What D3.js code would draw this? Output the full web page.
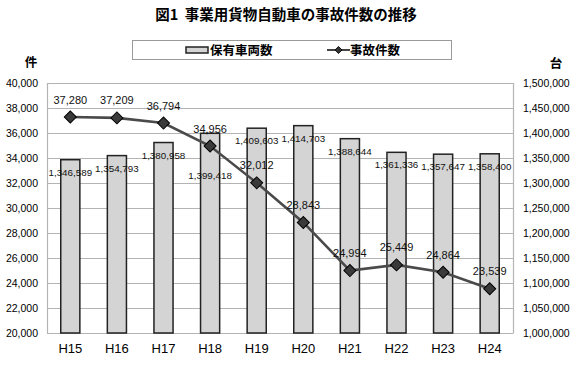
<!DOCTYPE html>
<html><head><meta charset="utf-8">
<script src="https://cdn.jsdelivr.net/npm/d3@7"></script>
<style>
body{margin:0;background:#fff;}
svg text{font-family:"Liberation Sans",Arial,"Noto Sans CJK JP",sans-serif;}
</style></head>
<body><svg id="c" width="577" height="380"></svg>
<script>
const categories = ["H15","H16","H17","H18","H19","H20","H21","H22","H23","H24"];
const vehicles = [1346589,1354793,1380958,1399418,1409603,1414703,1388644,1361336,1357647,1358400];
const accidents = [37280,37209,36794,34956,32012,28843,24994,25449,24864,23539];
const leftTicks = [20000,22000,24000,26000,28000,30000,32000,34000,36000,38000,40000];
const rightTicks = [1000000,1050000,1100000,1150000,1200000,1250000,1300000,1350000,1400000,1450000,1500000];

const svg = d3.select("#c");
const L = 47, R = 513, T = 83, B = 333;
const x = d3.scaleBand().domain(categories).range([L, R]).paddingInner(0.59).paddingOuter(0.295);
const yL = d3.scaleLinear().domain([20000, 40000]).range([B, T]);
const yR = d3.scaleLinear().domain([1000000, 1500000]).range([B, T]);
const fmt = d3.format(",");
const cjk = '"Noto Sans CJK JP","Liberation Sans",sans-serif';
const diamond = s => d3.symbol(d3.symbolSquare, s * s)();

// title
svg.append("text").attr("x", 286).attr("y", 20).attr("text-anchor", "middle")
  .style("font-family", cjk).style("font-weight", "bold").style("font-size", "14.5px")
  .style("white-space", "pre")
  .text("図1  事業用貨物自動車の事故件数の推移");

// legend
const lg = svg.append("g");
lg.append("rect").attr("x", 132.5).attr("y", 40.5).attr("width", 319).attr("height", 19)
  .attr("fill", "#fff").attr("stroke", "#9a9a9a");
lg.append("rect").attr("x", 186).attr("y", 47).attr("width", 22).attr("height", 6)
  .attr("fill", "#d4d4d4").attr("stroke", "#222").attr("stroke-width", 1.5);
lg.append("text").attr("x", 210).attr("y", 54.5).style("font-family", cjk).style("font-weight", "bold")
  .style("font-size", "12.5px").text("保有車両数");
lg.append("line").attr("x1", 327).attr("x2", 350).attr("y1", 50).attr("y2", 50)
  .attr("stroke", "#444").attr("stroke-width", 2);
lg.append("path").attr("d", diamond(5)).attr("transform", "translate(338.5,50) rotate(45)")
  .attr("fill", "#333").attr("stroke", "#000").attr("stroke-width", 0.8);
lg.append("text").attr("x", 350).attr("y", 54.5).style("font-family", cjk).style("font-weight", "bold")
  .style("font-size", "12.5px").text("事故件数");

// unit labels
svg.append("text").attr("x", 31).attr("y", 67).attr("text-anchor", "middle")
  .style("font-family", cjk).style("font-weight", "bold").style("font-size", "12.5px").text("件");
svg.append("text").attr("x", 556).attr("y", 68).attr("text-anchor", "middle")
  .style("font-family", cjk).style("font-weight", "bold").style("font-size", "12.5px").text("台");

// gridlines
svg.append("g").selectAll("line").data(leftTicks).join("line")
  .attr("x1", L).attr("x2", R).attr("y1", d => Math.round(yL(d)) + 0.5).attr("y2", d => Math.round(yL(d)) + 0.5)
  .attr("stroke", "#b4b4b4").attr("stroke-width", 1.2);
svg.append("line").attr("x1", L + 0.5).attr("x2", L + 0.5).attr("y1", T).attr("y2", B + 0.5).attr("stroke", "#b4b4b4").attr("stroke-width", 1.2);
svg.append("line").attr("x1", R + 0.5).attr("x2", R + 0.5).attr("y1", T).attr("y2", B + 0.5).attr("stroke", "#b4b4b4").attr("stroke-width", 1.2);

// axes
const axL = svg.append("g").attr("transform", `translate(${L},0)`)
  .call(d3.axisLeft(yL).tickValues(leftTicks).tickFormat(fmt).tickSize(0).tickPadding(9));
const axR = svg.append("g").attr("transform", `translate(${R},0)`)
  .call(d3.axisRight(yR).tickValues(rightTicks).tickFormat(fmt).tickSize(0).tickPadding(10));
const axB = svg.append("g").attr("transform", `translate(0,${B})`)
  .call(d3.axisBottom(x).tickSize(0).tickPadding(11));
[axL, axR, axB].forEach(a => {
  a.select(".domain").remove();
  a.selectAll("text").style("font-family", '"Liberation Sans",Arial,sans-serif').attr("fill", "#000");
});
axL.selectAll("text").style("font-size", "10.5px");
axR.selectAll("text").style("font-size", "10.5px");
axB.selectAll("text").style("font-size", "13px");

// bars
svg.append("g").selectAll("rect").data(vehicles).join("rect")
  .attr("x", (d, i) => x(categories[i]))
  .attr("width", x.bandwidth())
  .attr("y", d => yR(d))
  .attr("height", d => B - yR(d))
  .attr("fill", "#d4d4d4").attr("stroke", "#222").attr("stroke-width", 1.5);

// bar labels
svg.append("g").selectAll("text").data(vehicles).join("text")
  .attr("x", (d, i) => x(categories[i]) + x.bandwidth() / 2)
  .attr("y", (d, i) => yR(d) + (i === 3 ? 46 : 16))
  .attr("text-anchor", "middle").style("font-size", "9.8px").attr("fill", "#111")
  .text(d => fmt(d));

// line
const cx = i => x(categories[i]) + x.bandwidth() / 2;
svg.append("path").datum(accidents)
  .attr("d", d3.line().x((d, i) => cx(i)).y(d => yL(d)))
  .attr("fill", "none").attr("stroke", "#4a4a4a").attr("stroke-width", 2.6);
svg.append("g").selectAll("path").data(accidents).join("path")
  .attr("d", diamond(8.5))
  .attr("transform", (d, i) => `translate(${cx(i)},${yL(d)}) rotate(45)`)
  .attr("fill", "#3a3a3a").attr("stroke", "#000").attr("stroke-width", 1);
svg.append("g").selectAll("text").data(accidents).join("text")
  .attr("x", (d, i) => cx(i)).attr("y", d => yL(d) - 13.5)
  .attr("text-anchor", "middle").style("font-size", "11px").attr("fill", "#111")
  .text(d => fmt(d));
</script></body></html>
